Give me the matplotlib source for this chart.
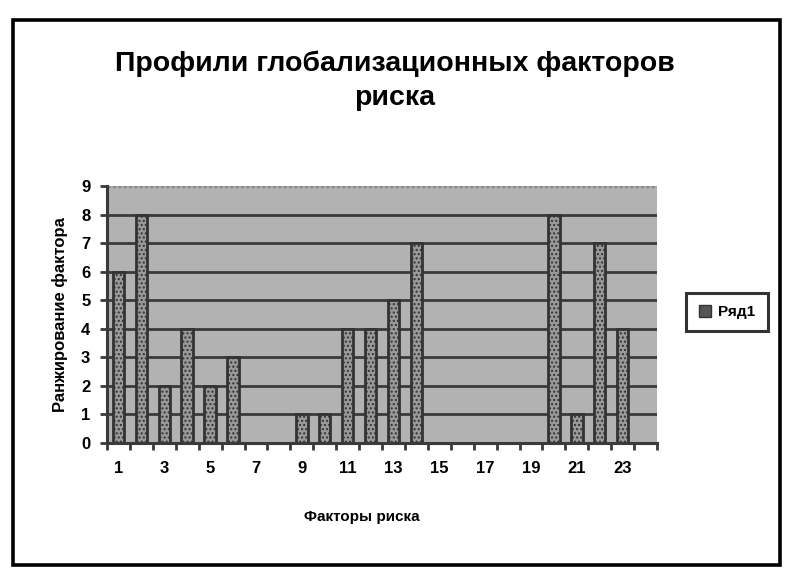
import matplotlib
matplotlib.use("Agg")
import matplotlib.pyplot as plt
from matplotlib.patches import Rectangle, Patch

categories = list(range(1, 25))
values = [6, 8, 2, 4, 2, 3, 0, 0, 1, 1, 4, 4, 5, 7, 0, 0, 0, 0, 0, 8, 1, 7, 4, 0]
tick_labels = [str(c) for c in categories[::2]]
title = "Профили глобализационных факторов\nриска"
xlabel = "Факторы риска"
ylabel = "Ранжирование фактора"
series_name = "Ряд1"

plt.rcParams['font.family'] = ['Liberation Sans', 'DejaVu Sans']
plt.rcParams['hatch.color'] = '#e0e0e0'
plt.rcParams['hatch.linewidth'] = 1.0

fig = plt.figure(figsize=(8, 5.84), dpi=100)
fig.patch.set_facecolor('white')

# outer frame
fig.patches.append(Rectangle((13/800, 1-565/584), (780-13)/800, (565-20)/584,
                             transform=fig.transFigure, fill=False,
                             edgecolor='black', linewidth=2.6))

ax = fig.add_axes([107/800, 1-443/584, 550/800, (443-186)/584])
ax.set_facecolor('#b2b2b2')
ax.set_xlim(0.5, 24.5)
ax.set_ylim(0, 9)

for y in range(1, 9):
    ax.axhline(y, color='#3a3a3a', linewidth=2.0, zorder=1)
ax.axhline(9, color='#8a8a8a', linewidth=2.4, linestyle=(0, (1, 0.6)), zorder=1)

ax.bar(categories, values, width=0.5, facecolor='#999999', edgecolor='#333333',
       linewidth=2.0, hatch='....', zorder=2)

for s in ['top', 'right']:
    ax.spines[s].set_visible(False)
for s in ['left', 'bottom']:
    ax.spines[s].set_color('#3a3a3a')
    ax.spines[s].set_linewidth(2.2)

ax.set_yticks(range(0, 10))
ax.set_yticklabels([str(i) for i in range(0, 10)], fontsize=12, fontweight='bold')
ax.tick_params(axis='y', direction='out', length=5, width=2, color='#3a3a3a', pad=7)

ax.set_xticks(categories[::2])
ax.set_xticklabels(tick_labels, fontsize=12, fontweight='bold')
ax.set_xticks([c + 0.5 for c in range(0, 25)], minor=True)
ax.tick_params(axis='x', which='major', length=0, pad=13)
ax.tick_params(axis='x', which='minor', direction='out', length=5, width=2, color='#3a3a3a')

fig.text(395/800, 1-81/584, title, ha='center', va='center', fontsize=20.5,
         fontweight='bold', linespacing=1.4)
fig.text(362/800, 1-517/584, xlabel, ha='center', va='center', fontsize=11,
         fontweight='bold')
fig.text(60/800, 1-315/584, ylabel, ha='center', va='center', rotation=90,
         fontsize=12, fontweight='bold')

leg = fig.legend(handles=[Patch(facecolor='#555555', edgecolor='#333333', label=series_name)],
                 loc='center', bbox_to_anchor=(727/800, 1-312/584), frameon=True,
                 prop={'weight': 'bold', 'size': 11},
                 handlelength=0.8, handleheight=0.8, handletextpad=0.5,
                 borderpad=0.8, fancybox=False)
leg.get_frame().set_edgecolor('black')
leg.get_frame().set_linewidth(2.2)

fig.savefig('out.png', dpi=100, facecolor='white')
